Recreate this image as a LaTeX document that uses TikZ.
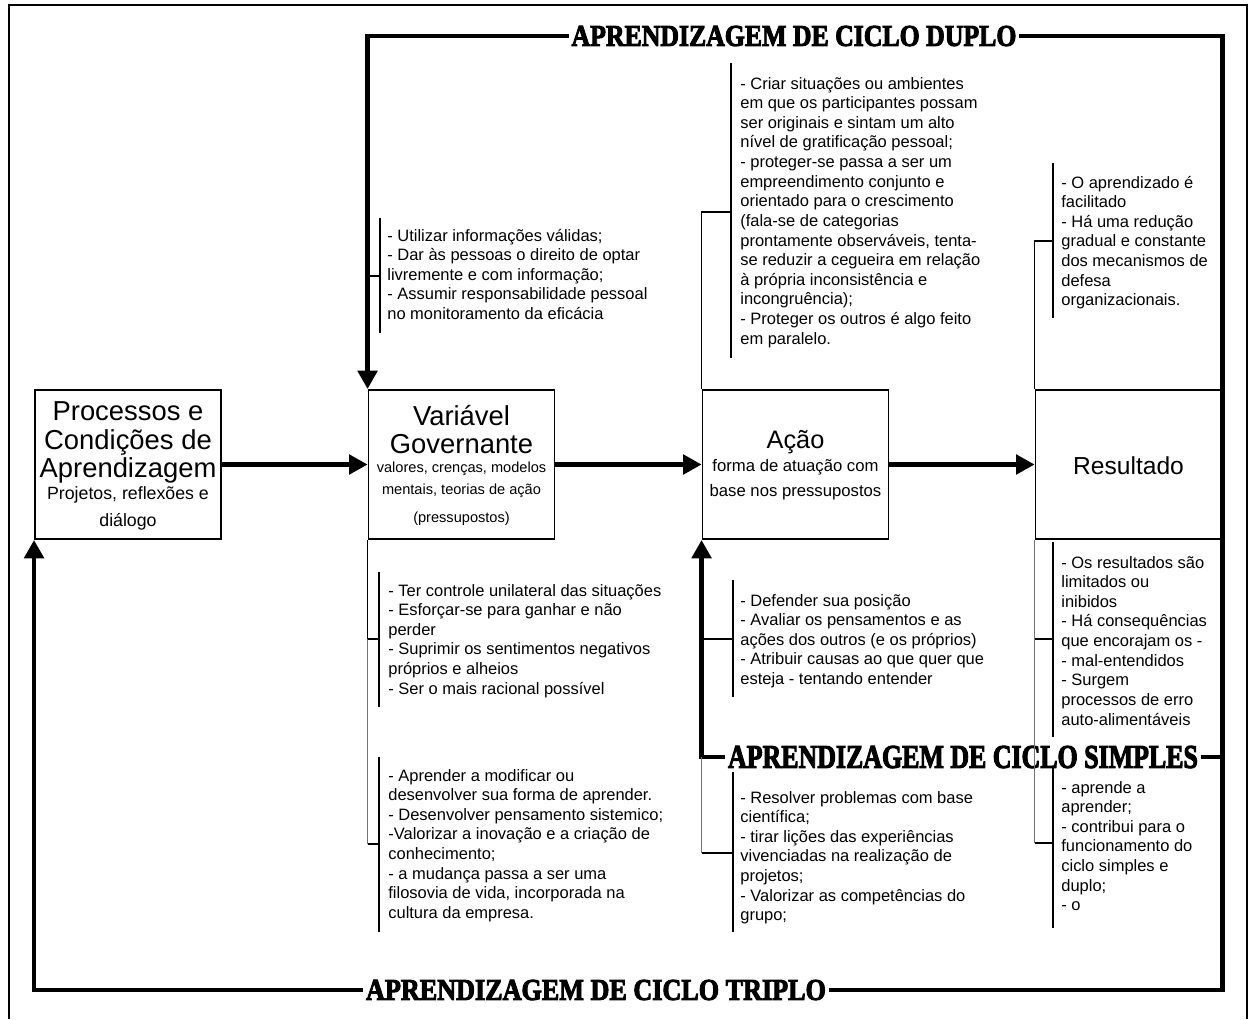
\documentclass[tikz,border=0pt]{standalone}
\usepackage{fontspec}
\setmainfont{Liberation Sans}
\newfontfamily\lblfont[FakeBold=3.5]{Liberation Serif}
\usetikzlibrary{arrows.meta}
\newcommand\annfont{\fontsize{9.38}{11.17}\selectfont}
\newcommand\hdfont{\fontsize{15.6}{15}\selectfont}
\newcommand\anntext[2]{\parbox[t]{#1}{\annfont\raggedright #2}}
\begin{document}
\begin{tikzpicture}[x=0.02cm, y=-0.02cm,
  box/.style={draw, line width=1.1pt, minimum width=3.72cm, minimum height=2.98cm, inner sep=0},
  txt/.style={anchor=base, inner sep=0},
  ann/.style={anchor=base west, inner sep=0},
  tiptri/.style={-{Triangle[length=10.5pt,width=11pt]}},
  thickarrow/.style={line width=2.4pt, tiptri},
  loopline/.style={line width=2.6pt, line join=miter},
  lbl/.style={fill=white, inner xsep=0.06cm, inner ysep=0.03cm},
  brk/.style={line width=0.6pt},
  lead/.style={line width=0.6pt, black!55}]
\useasboundingbox (0,0) rectangle (1255,1019);
\fill[white] (0,0) rectangle (1255,1019);
% frame
\draw[line width=0.9pt] (9,1019) -- (9,5) -- (1247,5) -- (1247,1019);

% main boxes
\node[box] (b1) at (128,464.5) {};
\node[box] (b2) at (461.5,464.5) {};
\node[box] (b3) at (795.5,464.5) {};
\node[box] (b4) at (1128.5,464.5) {};

% box texts
\node[txt, font=\hdfont] (b1t1) at (128,420) {Processos e};
\node[txt, font=\hdfont] (b1t2) at (128,449) {Condições de};
\node[txt, font=\hdfont] (b1t3) at (128,477) {Aprendizagem};
\node[txt, font=\fontsize{10.1}{12}\selectfont] (b1t4) at (128,499) {Projetos, reflexões e};
\node[txt, font=\fontsize{10.1}{12}\selectfont] (b1t5) at (128,526) {diálogo};

\node[txt, font=\hdfont] (b2t1) at (461.5,425) {Variável};
\node[txt, font=\hdfont] (b2t2) at (461.5,453) {Governante};
\node[txt, font=\fontsize{8.3}{10}\selectfont] (b2t3) at (461.5,472) {valores, crenças, modelos};
\node[txt, font=\fontsize{8.3}{10}\selectfont] (b2t4) at (461.5,494) {mentais, teorias de ação};
\node[txt, font=\fontsize{8.3}{10}\selectfont] (b2t5) at (461.5,522) {(pressupostos)};

\node[txt, font=\fontsize{14.4}{14}\selectfont] (b3t1) at (795.5,448) {Ação};
\node[txt, font=\fontsize{9.5}{11}\selectfont] (b3t2) at (795.5,471) {forma de atuação com};
\node[txt, font=\fontsize{9.5}{11}\selectfont] (b3t3) at (795.5,496) {base nos pressupostos};

\node[txt, font=\fontsize{14}{14}\selectfont] (b4t1) at (1128.5,474) {Resultado};

% horizontal arrows
\draw[thickarrow] (b1.east) -- (b2.west);
\draw[thickarrow] (b2.east) -- (b3.west);
\draw[thickarrow] (b3.east) -- (b4.west);

% loop coordinates
\coordinate (ytop) at (0,36);
\coordinate (ysim) at (0,757);
\coordinate (ytri) at (0,990);
\coordinate (dTR) at (b4.north east |- ytop);
\coordinate (dTL) at (b2.north west |- ytop);
\coordinate (sR) at (b4.north east |- ysim);
\coordinate (sL) at (b3.south west |- ysim);
\coordinate (tR) at (b4.north east |- ytri);
\coordinate (tL) at (b1.south west |- ytri);

\draw[loopline, tiptri] (b4.north east) -- (dTR) -- (dTL) -- (b2.north west);
\draw[loopline, tiptri] (b4.north east) -- (tR) -- (tL) -- (b1.south west);
\draw[loopline, tiptri] (sR) -- (sL) -- (b3.south west);

% loop labels
\node[lbl] (lduplo) at (794,36) {\resizebox{8.9cm}{0.4cm}{\lblfont\bfseries APRENDIZAGEM DE CICLO DUPLO}};
\node[lbl] (lsimples) at (963,757) {\resizebox{9.4cm}{0.44cm}{\lblfont\bfseries APRENDIZAGEM DE CICLO SIMPLES}};
\node[lbl] (ltriplo) at (596,990) {\resizebox{9.2cm}{0.4cm}{\lblfont\bfseries APRENDIZAGEM DE CICLO TRIPLO}};

% ---------- annotations ----------
% A1 (above Variavel Governante)
\draw[brk] (380,218) -- (380,333);
\coordinate (a1s) at (380,276);
\draw[brk] (a1s) -- (a1s -| dTL);
\node[ann] (a1) at (387,241) {\anntext{6cm}{- Utilizar informações válidas;\\
- Dar às pessoas o direito de optar\\
livremente e com informação;\\
- Assumir responsabilidade pessoal\\
no monitoramento da eficácia}};

% A2 (above Acao)
\draw[brk] (731,63) -- (731,358);
\coordinate (a2s) at (731,212);
\draw[brk] (a2s) -- (a2s -| b3.north west) -- (b3.north west);
\node[ann] (a2) at (740,89) {\anntext{6cm}{- Criar situações ou ambientes\\
em que os participantes possam\\
ser originais e sintam um alto\\
nível de gratificação pessoal;\\
- proteger-se passa a ser um\\
empreendimento conjunto e\\
orientado para o crescimento\\
(fala-se de categorias\\
prontamente observáveis, tenta-\\
se reduzir a cegueira em relação\\
à própria inconsistência e\\
incongruência);\\
- Proteger os outros é algo feito\\
em paralelo.}};

% A3 (above Resultado)
\draw[brk] (1053,163) -- (1053,318);
\coordinate (a3s) at (1053,241);
\draw[brk] (a3s) -- (a3s -| b4.north west) -- (b4.north west);
\node[ann] (a3) at (1061,188) {\anntext{3.6cm}{- O aprendizado é\\
facilitado\\
- Há uma redução\\
gradual e constante\\
dos mecanismos de\\
defesa\\
organizacionais.}};

% A4 (below Variavel Governante)
\draw[brk] (379,572) -- (379,707);
\coordinate (a4s) at (379,639);
\draw[brk] (a4s) -- (a4s -| b2.south west) -- (b2.south west);
\node[ann] (a4) at (388,596) {\anntext{6cm}{- Ter controle unilateral das situações\\
- Esforçar-se para ganhar e não\\
perder\\
- Suprimir os sentimentos negativos\\
próprios e alheios\\
- Ser o mais racional possível}};

% A5
\draw[brk] (379,757) -- (379,932);
\coordinate (a5s) at (379,844);
\draw[brk] (a5s) -- (a5s -| b2.south west);
\draw[lead] (a5s -| b2.south west) -- (a4s -| b2.south west);
\node[ann] (a5) at (388,781) {\anntext{6cm}{- Aprender a modificar ou\\
desenvolver sua forma de aprender.\\
- Desenvolver pensamento sistemico;\\
-Valorizar a inovação e a criação de\\
conhecimento;\\
- a mudança passa a ser uma\\
filosovia de vida, incorporada na\\
cultura da empresa.}};

% A6 (below Acao)
\draw[brk] (733,580) -- (733,697);
\coordinate (a6s) at (733,639);
\draw[brk] (a6s) -- (a6s -| sL);
\node[ann] (a6) at (740,606) {\anntext{6cm}{- Defender sua posição\\
- Avaliar os pensamentos e as\\
ações dos outros (e os próprios)\\
- Atribuir causas ao que quer que\\
esteja - tentando entender}};

% A7
\draw[brk] (733,772) -- (733,932);
\coordinate (a7s) at (733,853);
\draw[brk] (a7s) -- (a7s -| sL);
\draw[lead] (a7s -| sL) -- (sL);
\node[ann] (a7) at (740,803) {\anntext{6cm}{- Resolver problemas com base\\
científica;\\
- tirar lições das experiências\\
vivenciadas na realização de\\
projetos;\\
- Valorizar as competências do\\
grupo;}};

% A8 (below Resultado)
\draw[brk] (1053,542) -- (1053,737);
\coordinate (a8s) at (1053,639);
\draw[brk] (a8s) -- (a8s -| b4.south west);
\draw[lead] (a8s -| b4.south west) -- (b4.south west);
\node[ann] (a8) at (1061,568) {\anntext{3.6cm}{- Os resultados são\\
limitados ou\\
inibidos\\
- Há consequências\\
que encorajam os -\\
- mal-entendidos\\
- Surgem\\
processos de erro\\
auto-alimentáveis}};

% A9
\draw[brk] (1053,767) -- (1053,928);
\coordinate (a9s) at (1053,843);
\draw[brk] (a9s) -- (a9s -| b4.south west);
\draw[lead] (a9s -| b4.south west) -- (a8s -| b4.south west);
\node[ann] (a9) at (1061,793) {\anntext{3.6cm}{- aprende a\\
aprender;\\
- contribui para o\\
funcionamento do\\
ciclo simples e\\
duplo;\\
- o}};
\end{tikzpicture}
\end{document}
